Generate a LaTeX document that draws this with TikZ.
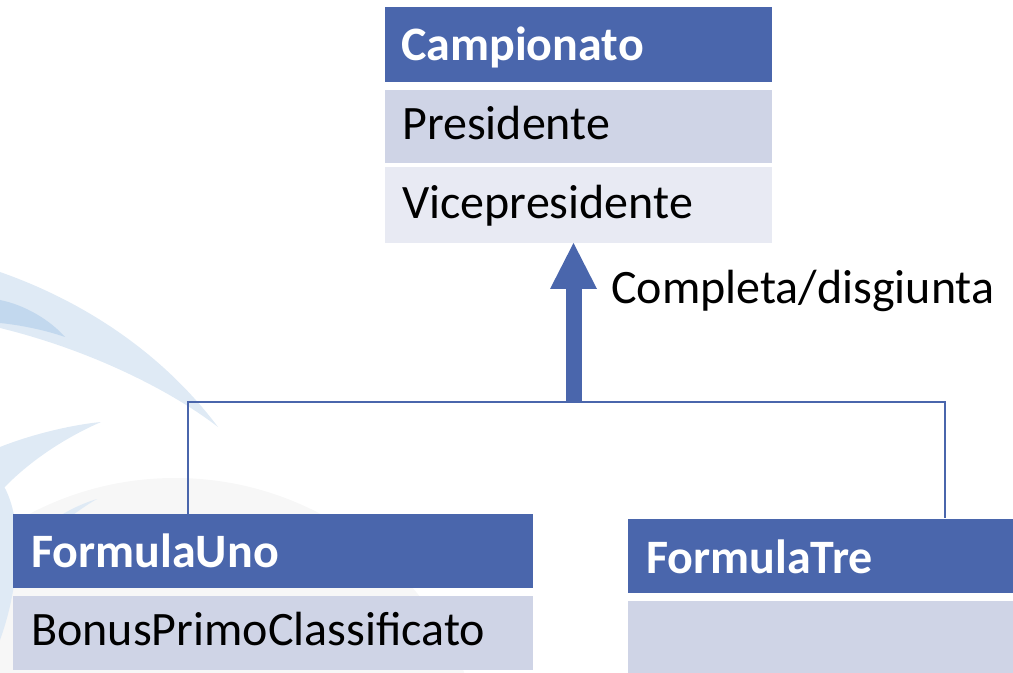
\documentclass[tikz,border=0pt]{standalone}
\usepackage{fontspec}
\setmainfont{Carlito}
\definecolor{hdrblue}{HTML}{4A66AC}
\definecolor{rowA}{HTML}{CFD4E6}
\definecolor{rowB}{HTML}{E8EAF3}
\definecolor{swA}{HTML}{DFEAF5}
\definecolor{swB}{HTML}{C2D8EE}
\definecolor{arcgray}{HTML}{F7F7F7}
\tikzset{
  hdr/.style={fill=hdrblue, draw=none},
  rowa/.style={fill=rowA, draw=none},
  rowb/.style={fill=rowB, draw=none},
  hdrtext/.style={anchor=base west, inner sep=0pt, text=white, font=\fontsize{36pt}{42pt}\selectfont\bfseries},
  attrtext/.style={anchor=base west, inner sep=0pt, text=black, font=\fontsize{36pt}{42pt}\selectfont},
  link/.style={draw=hdrblue, line width=1.6pt},
}
\begin{document}
\begin{tikzpicture}[x=0.75pt, y=-0.75pt]
\useasboundingbox (0,0) rectangle (1013,673);
\begin{scope}
\clip (0,0) rectangle (1013,673);
% background decoration
\fill[arcgray] (175,790) circle[radius=312];
\fill[swA] (0,272) .. controls (80,300) and (160,350) .. (218,427)
   .. controls (170,390) and (90,350) .. (0,328) -- cycle;
\fill[swB] (0,300) .. controls (25,305) and (50,320) .. (65,337)
   .. controls (45,330) and (20,325) .. (0,323) -- cycle;
\fill[swA] (0,447) .. controls (30,435) and (70,425) .. (101,422)
   .. controls (60,440) and (25,465) .. (0,492) -- cycle;
\fill[swA] (97,499) .. controls (60,510) and (20,540) .. (0,575)
   -- (0,600) .. controls (20,560) and (60,520) .. (97,499) -- cycle;
\fill[swA] (0,480) .. controls (25,515) and (20,585) .. (0,640) -- cycle;

% Campionato
\path[hdr] (385,7) rectangle (772,82);
\node[hdrtext] (camp) at (401,61) {Campionato};
\path[rowa] (385,90) rectangle (772,163);
\node[attrtext] (pres) at (402,140) {Presidente};
\path[rowb] (385,167) rectangle (772,243);
\node[attrtext] (vice) at (402,219) {Vicepresidente};

% FormulaUno
\path[hdr] (13,514) rectangle (533,588);
\node[hdrtext] (f1) at (31,567) {FormulaUno};
\path[rowa] (13,596) rectangle (533,670);
\node[attrtext] (bonus) at (31,645) {BonusPrimoClassificato};

% FormulaTre
\path[hdr] (628,519) rectangle (1020,593);
\node[hdrtext] (f3) at (646,573) {FormulaTre};
\path[rowa] (628,601) rectangle (1020,680);

% connectors
\coordinate (f1top) at (188,514);
\coordinate (f3top) at (945,518);
\draw[link] (f1top) -- (188,402) -- (945,402) -- (f3top);
\fill[hdrblue] (566,401) rectangle (582,289);
\fill[hdrblue] (550,289) -- (597,289) -- (573.5,243) -- cycle;
\node[attrtext] (lbl) at (611,304) {Completa/disgiunta};
\end{scope}
\end{tikzpicture}
\end{document}
